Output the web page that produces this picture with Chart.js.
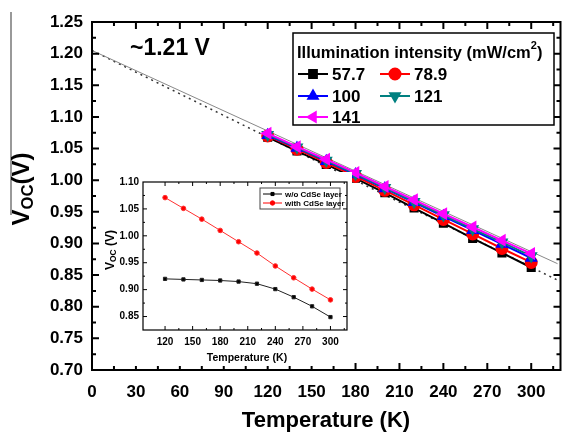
<!DOCTYPE html>
<html>
<head>
<meta charset="utf-8">
<script src="https://cdn.jsdelivr.net/npm/chart.js@4.4.0/dist/chart.umd.min.js"></script>
<style>
  body { margin: 0; background: #fff; }
  #wrap { position: relative; width: 568px; height: 432px; }
  #mainChart { position: absolute; left: 0; top: 0; }
  #insetChart { position: absolute; left: 100px; top: 172px; background: #fff; }
</style>
</head>
<body>
<div id="wrap">
  <canvas id="mainChart" width="568" height="432"></canvas>
  <canvas id="insetChart" width="252" height="194"></canvas>
</div>
<script>
// Main plot data
var temps = [120, 140, 160, 180, 200, 220, 240, 260, 280, 300];
var intensities = ["57.7", "78.9", "100", "121", "141"];
var voc577 = [1.068, 1.046, 1.025, 1.003, 0.980, 0.956, 0.932, 0.908, 0.885, 0.862];
var voc789 = [1.070, 1.049, 1.028, 1.006, 0.984, 0.961, 0.938, 0.915, 0.892, 0.870];
var voc100 = [1.071, 1.051, 1.030, 1.009, 0.987, 0.965, 0.943, 0.921, 0.899, 0.877];
var voc121 = [1.072, 1.052, 1.031, 1.010, 0.988, 0.966, 0.945, 0.923, 0.902, 0.880];
var voc141 = [1.074, 1.053, 1.033, 1.012, 0.990, 0.969, 0.947, 0.926, 0.905, 0.884];
// extrapolation lines to 0 K
var fitT = [0, 318];
var fitDotted = [1.205, 0.842];
var fitSolid = [1.205, 0.868];

// Inset data
var insetTemps = [120, 140, 160, 180, 200, 220, 240, 260, 280, 300];
var withoutCdSe = [0.920, 0.919, 0.918, 0.917, 0.915, 0.911, 0.901, 0.886, 0.869, 0.849];
var withCdSe = [1.071, 1.051, 1.031, 1.010, 0.989, 0.968, 0.944, 0.922, 0.901, 0.881];

var FONT = "'Liberation Sans', Arial, sans-serif";

function pts(xs, ys) {
  return xs.map(function (x, i) { return { x: x, y: ys[i] }; });
}

// frame + inward ticks on all four sides
function frameTicks(opts) {
  return {
    id: "frameTicks",
    afterDraw: function (chart) {
      var ctx = chart.ctx, a = chart.chartArea;
      var xs = chart.scales.x, ys = chart.scales.y;
      ctx.save();
      ctx.strokeStyle = "#000";
      ctx.lineWidth = opts.lw;
      ctx.strokeRect(a.left, a.top, a.right - a.left, a.bottom - a.top);
      ctx.lineWidth = opts.tw;
      ctx.beginPath();
      for (var v = opts.xStart; v <= xs.max + 1e-9; v += opts.xMinor) {
        var px = xs.getPixelForValue(v);
        if (px <= a.left + 1 || px >= a.right - 1) continue;
        var k1 = (v - opts.xStart) / opts.xMajor;
        var major = Math.abs(k1 - Math.round(k1)) < 1e-6;
        var len = major ? opts.majorLen : opts.minorLen;
        ctx.moveTo(px, a.bottom); ctx.lineTo(px, a.bottom - len);
        ctx.moveTo(px, a.top); ctx.lineTo(px, a.top + len);
      }
      for (var w = opts.yStart; w <= ys.max + 1e-9; w += opts.yMinor) {
        var py = ys.getPixelForValue(w);
        if (py <= a.top + 1 || py >= a.bottom - 1) continue;
        var k = (w - opts.yStart) / opts.yMajor;
        var maj = Math.abs(k - Math.round(k)) < 1e-6;
        var l2 = maj ? opts.majorLen : opts.minorLen;
        ctx.moveTo(a.left, py); ctx.lineTo(a.left + l2, py);
        ctx.moveTo(a.right, py); ctx.lineTo(a.right - l2, py);
      }
      ctx.stroke();
      ctx.restore();
    }
  };
}

// rotated title with a subscript part
function drawSubTitle(ctx, x, y, size, parts) {
  ctx.save();
  ctx.translate(x, y);
  ctx.rotate(-Math.PI / 2);
  ctx.fillStyle = "#000";
  ctx.textBaseline = "middle";
  var total = 0;
  parts.forEach(function (p) {
    ctx.font = "bold " + (p[1] ? size * 0.7 : size) + "px " + FONT;
    total += ctx.measureText(p[0]).width;
  });
  var cx = -total / 2;
  parts.forEach(function (p) {
    ctx.font = "bold " + (p[1] ? size * 0.7 : size) + "px " + FONT;
    ctx.textAlign = "left";
    ctx.fillText(p[0], cx, p[1] ? size * 0.25 : 0);
    cx += ctx.measureText(p[0]).width;
  });
  ctx.restore();
}

var mainColors = ["#000000", "#ff0000", "#0000ff", "#008080", "#ff00ff"];
var mainStyles = [
  { s: "rect", r: 0 }, { s: "circle", r: 0 }, { s: "triangle", r: 0 },
  { s: "triangle", r: 180 }, { s: "triangle", r: 270 }
];
var mainValues = [voc577, voc789, voc100, voc121, voc141];

var mainDatasets = [
  { data: pts(fitT, fitDotted), borderColor: "#333", borderWidth: 1.5, borderDash: [2, 4],
    pointRadius: 0, showLine: true, order: 10 },
  { data: pts(fitT, fitSolid), borderColor: "#888", borderWidth: 1, pointRadius: 0,
    showLine: true, order: 9 }
];
intensities.forEach(function (lab, i) {
  mainDatasets.push({
    label: lab,
    data: pts(temps, mainValues[i]),
    borderColor: mainColors[i],
    backgroundColor: mainColors[i],
    borderWidth: 2,
    pointStyle: mainStyles[i].s,
    rotation: mainStyles[i].r,
    pointRadius: i === 0 ? 5 : 5.5,
    showLine: true,
    order: 5 - i
  });
});

var mainDecor = {
  id: "mainDecor",
  afterDraw: function (chart) {
    var ctx = chart.ctx;
    ctx.save();
    // left edge line
    ctx.strokeStyle = "#777";
    ctx.lineWidth = 1.5;
    ctx.beginPath(); ctx.moveTo(11, 12); ctx.lineTo(11, 215); ctx.stroke();
    // annotation
    ctx.fillStyle = "#000";
    ctx.font = "bold 23px " + FONT;
    ctx.textAlign = "left"; ctx.textBaseline = "middle";
    ctx.fillText("~1.21 V", 130, 49);
    // axis titles
    ctx.font = "bold 22px " + FONT;
    ctx.textAlign = "center";
    ctx.fillText("Temperature (K)", 326, 421);
    drawSubTitle(ctx, 22, 189, 24, [["V", false], ["OC", true], ["(V)", false]]);

    // legend box
    var bx = 293, by = 33, bw = 261, bh = 92;
    ctx.fillStyle = "#fff";
    ctx.fillRect(bx, by, bw, bh);
    ctx.strokeStyle = "#000"; ctx.lineWidth = 1.5;
    ctx.strokeRect(bx, by, bw, bh);
    ctx.fillStyle = "#000";
    var title = "Illumination intensity (mW/cm";
    ctx.font = "bold 16.5px " + FONT;
    ctx.textAlign = "left";
    ctx.fillText(title, 297, 53);
    var tw = ctx.measureText(title).width;
    ctx.font = "bold 11px " + FONT;
    ctx.fillText("2", 297 + tw, 46);
    var tw2 = ctx.measureText("2").width;
    ctx.font = "bold 16.5px " + FONT;
    ctx.fillText(")", 297 + tw + tw2, 53);
    var pos = [[298, 74], [380, 74], [298, 96], [380, 96], [298, 117]];
    intensities.forEach(function (lab, i) {
      var p = pos[i];
      ctx.strokeStyle = mainColors[i]; ctx.lineWidth = 2;
      ctx.beginPath(); ctx.moveTo(p[0], p[1]); ctx.lineTo(p[0] + 30, p[1]); ctx.stroke();
      ctx.fillStyle = mainColors[i];
      ctx.strokeStyle = mainColors[i];
      Chart.helpers.drawPoint(ctx, { pointStyle: mainStyles[i].s, rotation: mainStyles[i].r,
        radius: 5.5, borderWidth: 1 }, p[0] + 15, p[1]);
      ctx.fillStyle = "#000";
      ctx.font = "bold 17px " + FONT;
      ctx.textAlign = "left"; ctx.textBaseline = "middle";
      ctx.fillText(lab, p[0] + 34, p[1] + 1);
    });
    ctx.restore();
  }
};

new Chart(document.getElementById("mainChart"), {
  type: "scatter",
  data: { datasets: mainDatasets },
  options: {
    responsive: false,
    animation: false,
    layout: { padding: { top: 22, right: 2, left: 0, bottom: 0 } },
    plugins: { legend: { display: false }, tooltip: { enabled: false } },
    scales: {
      x: {
        type: "linear", min: 0, max: 320,
        grid: { display: false, drawTicks: false },
        border: { display: false },
        afterBuildTicks: function (s) {
          s.ticks = [0, 30, 60, 90, 120, 150, 180, 210, 240, 270, 300].map(function (v) { return { value: v }; });
        },
        afterFit: function (s) { s.height = 62; },
        ticks: { color: "#000", padding: 12, maxRotation: 0,
          font: { family: FONT, size: 17, weight: "bold" } }
      },
      y: {
        type: "linear", min: 0.7, max: 1.25,
        grid: { display: false, drawTicks: false },
        border: { display: false },
        afterBuildTicks: function (s) {
          var t = [];
          for (var i = 0; i <= 11; i++) t.push({ value: +(0.7 + i * 0.05).toFixed(2) });
          s.ticks = t;
        },
        afterFit: function (s) { s.width = 92; },
        ticks: { color: "#000", padding: 9,
          callback: function (v) { return Number(v).toFixed(2); },
          font: { family: FONT, size: 17, weight: "bold" } }
      }
    }
  },
  plugins: [frameTicks({ lw: 2, tw: 2, xStart: 0, xMajor: 30, xMinor: 15, yStart: 0.7, yMajor: 0.05, yMinor: 0.025, majorLen: 7, minorLen: 4 }), mainDecor]
});

// Inset chart
var insetDecor = {
  id: "insetDecor",
  afterDraw: function (chart) {
    var ctx = chart.ctx;
    ctx.save();
    ctx.fillStyle = "#000";
    ctx.font = "bold 10.5px " + FONT;
    ctx.textAlign = "center"; ctx.textBaseline = "middle";
    ctx.fillText("Temperature (K)", 147, 186);
    drawSubTitle(ctx, 11, 78, 12, [["V", false], ["OC", true], [" (V)", false]]);
    // legend
    var bx = 160, by = 16, bw = 80, bh = 21;
    ctx.strokeStyle = "#444"; ctx.lineWidth = 1;
    ctx.strokeRect(bx, by, bw, bh);
    var items = [["w/o CdSe layer", "#000", "rect"], ["with CdSe layer", "#ff0000", "circle"]];
    items.forEach(function (it, i) {
      var y = by + 6 + i * 9;
      ctx.strokeStyle = it[1]; ctx.lineWidth = 1;
      ctx.beginPath(); ctx.moveTo(bx + 3, y); ctx.lineTo(bx + 22, y); ctx.stroke();
      ctx.fillStyle = it[1];
      Chart.helpers.drawPoint(ctx, { pointStyle: it[2], rotation: 0, radius: 2.2, borderWidth: 1 }, bx + 12.5, y);
      ctx.fillStyle = "#000";
      ctx.font = "bold 8px " + FONT;
      ctx.textAlign = "left";
      ctx.fillText(it[0], bx + 25, y + 0.5);
    });
    ctx.restore();
  }
};

new Chart(document.getElementById("insetChart"), {
  type: "scatter",
  data: {
    datasets: [
      { label: "w/o CdSe layer", data: pts(insetTemps, withoutCdSe), borderColor: "#222",
        backgroundColor: "#000", borderWidth: 1, pointStyle: "rect", pointRadius: 2.3, showLine: true },
      { label: "with CdSe layer", data: pts(insetTemps, withCdSe), borderColor: "#ff3030",
        backgroundColor: "#ff0000", borderWidth: 1, pointStyle: "circle", pointRadius: 2.3, showLine: true }
    ]
  },
  options: {
    responsive: false,
    animation: false,
    layout: { padding: { top: 10, right: 4, left: 0, bottom: 0 } },
    plugins: { legend: { display: false }, tooltip: { enabled: false } },
    scales: {
      x: {
        type: "linear", min: 96, max: 318,
        grid: { display: false, drawTicks: false },
        border: { display: false },
        afterBuildTicks: function (s) {
          s.ticks = [120, 150, 180, 210, 240, 270, 300].map(function (v) { return { value: v }; });
        },
        afterFit: function (s) { s.height = 36; },
        ticks: { color: "#000", padding: 6, maxRotation: 0,
          font: { family: FONT, size: 10, weight: "bold" } }
      },
      y: {
        type: "linear", min: 0.825, max: 1.10,
        grid: { display: false, drawTicks: false },
        border: { display: false },
        afterBuildTicks: function (s) {
          var t = [];
          for (var i = 0; i <= 5; i++) t.push({ value: +(0.85 + i * 0.05).toFixed(2) });
          s.ticks = t;
        },
        afterFit: function (s) { s.width = 43; },
        ticks: { color: "#000", padding: 4,
          callback: function (v) { return Number(v).toFixed(2); },
          font: { family: FONT, size: 10, weight: "bold" } }
      }
    }
  },
  plugins: [frameTicks({ lw: 1.2, tw: 1, xStart: 120, xMajor: 30, xMinor: 15, yStart: 0.85, yMajor: 0.05, yMinor: 0.025, majorLen: 4, minorLen: 2 }), insetDecor]
});
</script>
</body>
</html>
